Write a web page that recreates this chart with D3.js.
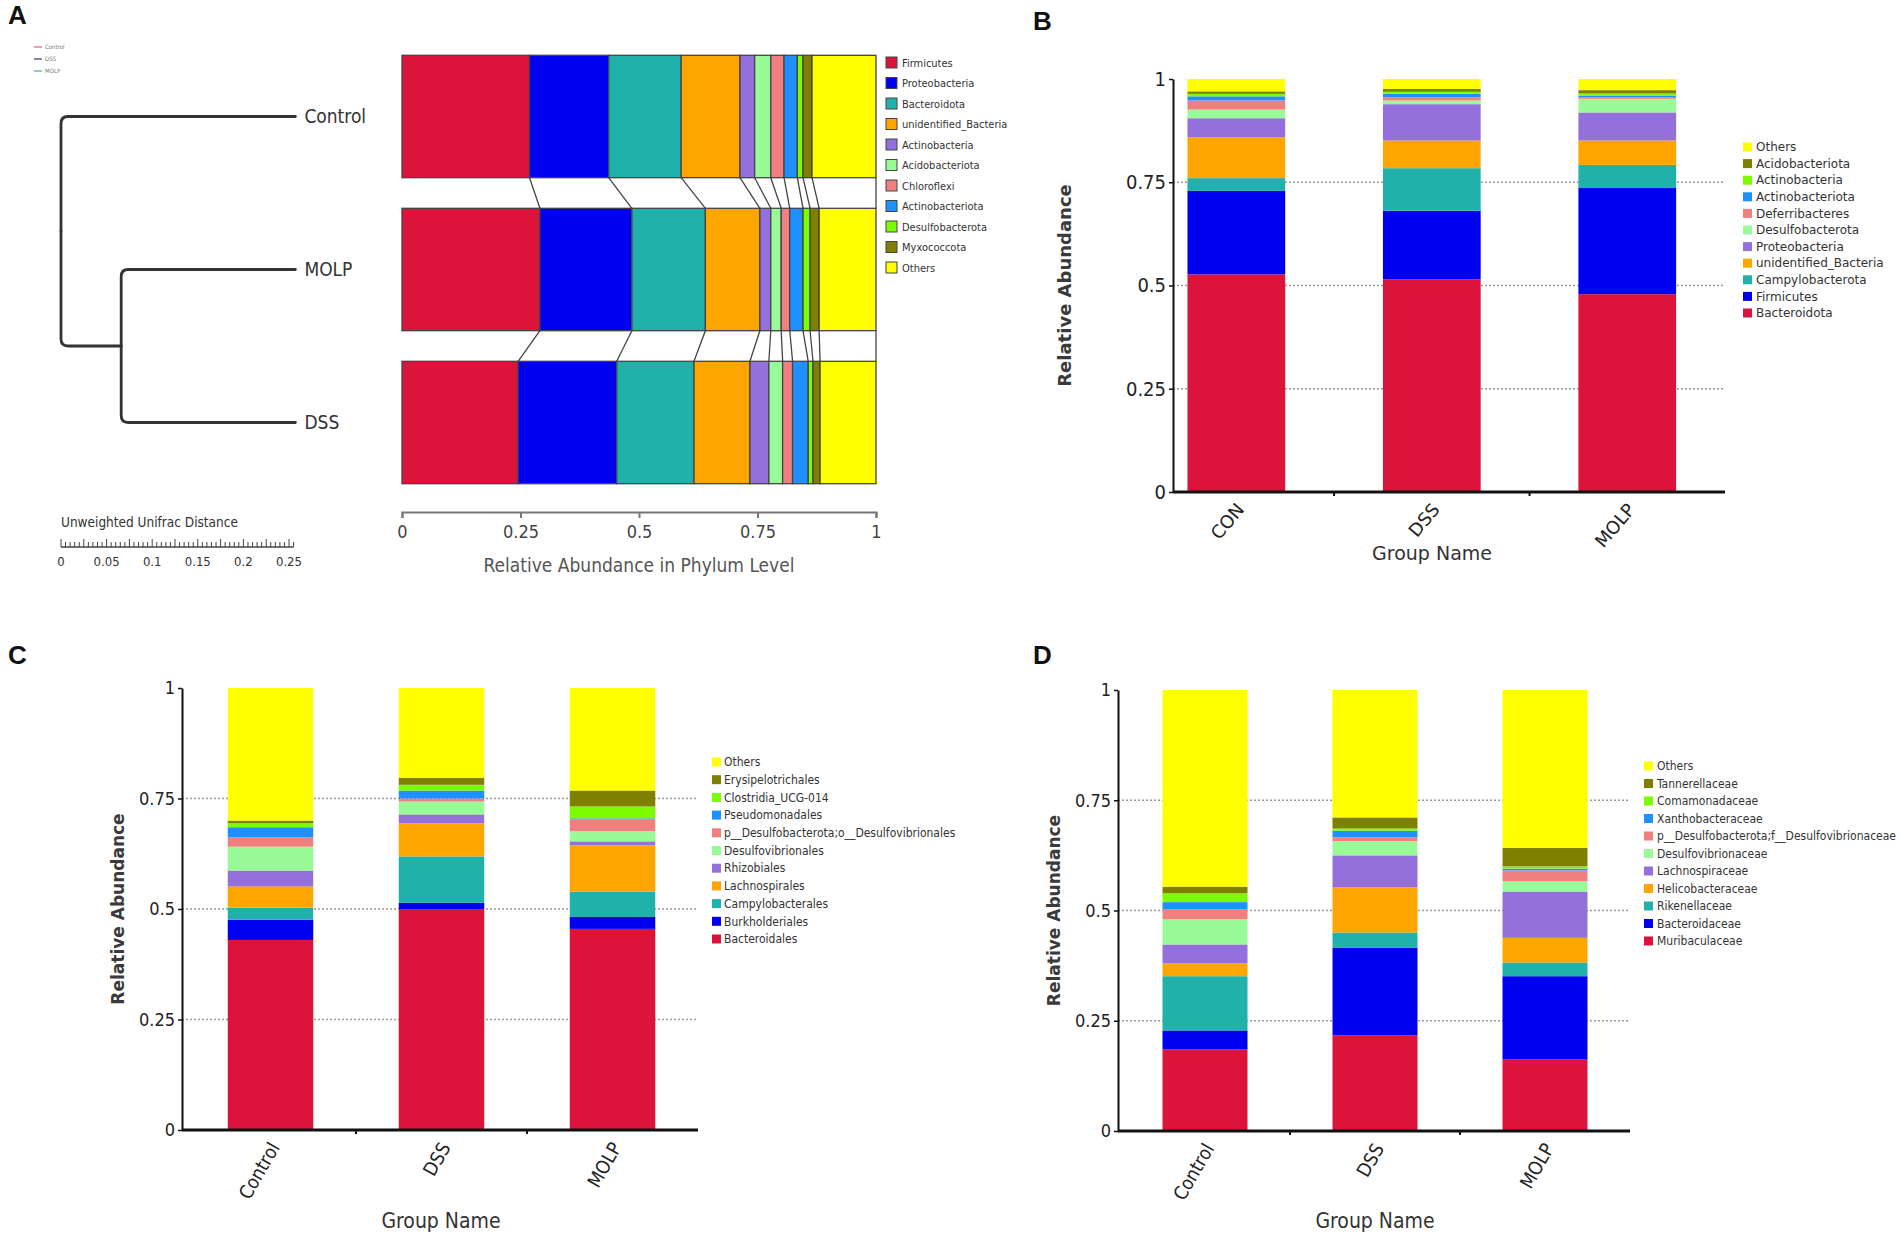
<!DOCTYPE html>
<html>
<head>
<meta charset="utf-8">
<script src="https://cdn.jsdelivr.net/npm/d3@7"></script>
<style>
  body { margin: 0; background: #fff; }
  svg { display: block; }
</style>
</head>
<body>
<svg id="fig" width="1902" height="1244"></svg>
<script>
// shared palette, same order for every panel (bottom of stack first)
const palette = ["#DC143C", "#0000F0", "#20B2AA", "#FFA500", "#9370DB", "#98FB98",
                 "#F08080", "#1E90FF", "#7CFC00", "#808000", "#FFFF00"];
const yTicks = [0, 0.25, 0.5, 0.75, 1];

// panel A: phylum level, horizontal bars
const phylaA = ["Firmicutes", "Proteobacteria", "Bacteroidota", "unidentified_Bacteria", "Actinobacteria",
                "Acidobacteriota", "Chloroflexi", "Actinobacteriota", "Desulfobacterota", "Myxococcota", "Others"];
const groupsA = ["Control", "MOLP", "DSS"];
const controlA = [0.269, 0.167, 0.153, 0.124, 0.031, 0.034, 0.028, 0.028, 0.012, 0.019, 0.135];
const molpA = [0.291, 0.194, 0.155, 0.115, 0.023, 0.022, 0.018, 0.028, 0.015, 0.019, 0.120];
const dssA = [0.245, 0.208, 0.163, 0.118, 0.040, 0.029, 0.021, 0.033, 0.010, 0.015, 0.118];
const ticksA = [0, 0.25, 0.5, 0.75, 1];

// dendrogram (unweighted unifrac)
const innerDist = 0.066;   // distance from root to MOLP/DSS node
const leafDist = 0.257;    // distance from root to leaves
const distTicks = [0, 0.05, 0.1, 0.15, 0.2, 0.25];
const treeLegend = ["Control", "DSS", "MOLP"];
const treeLegendColors = ["#d9607a", "#2b3a67", "#4aa59a"];

// panel B: phylum level
const taxaB = ["Bacteroidota", "Firmicutes", "Campylobacterota", "unidentified_Bacteria", "Proteobacteria",
               "Desulfobacterota", "Deferribacteres", "Actinobacteriota", "Actinobacteria", "Acidobacteriota", "Others"];
const groupsB = ["CON", "DSS", "MOLP"];
const conB = [0.527, 0.202, 0.031, 0.099, 0.046, 0.021, 0.022, 0.010, 0.006, 0.006, 0.030];
const dssB = [0.515, 0.166, 0.103, 0.067, 0.088, 0.009, 0.008, 0.008, 0.005, 0.007, 0.024];
const molpB = [0.479, 0.257, 0.056, 0.059, 0.068, 0.033, 0.004, 0.004, 0.005, 0.008, 0.027];

// panel C: order level
const taxaC = ["Bacteroidales", "Burkholderiales", "Campylobacterales", "Lachnospirales", "Rhizobiales",
               "Desulfovibrionales", "p__Desulfobacterota;o__Desulfovibrionales", "Pseudomonadales",
               "Clostridia_UCG-014", "Erysipelotrichales", "Others"];
const groupsC = ["Control", "DSS", "MOLP"];
const controlC = [0.430, 0.046, 0.027, 0.048, 0.036, 0.054, 0.021, 0.023, 0.009, 0.006, 0.300];
const dssC = [0.500, 0.014, 0.105, 0.075, 0.020, 0.029, 0.007, 0.018, 0.013, 0.016, 0.203];
const molpC = [0.455, 0.027, 0.057, 0.105, 0.009, 0.023, 0.027, 0.002, 0.027, 0.036, 0.232];

// panel D: family level
const taxaD = ["Muribaculaceae", "Bacteroidaceae", "Rikenellaceae", "Helicobacteraceae", "Lachnospiraceae",
               "Desulfovibrionaceae", "p__Desulfobacterota;f__Desulfovibrionaceae", "Xanthobacteraceae",
               "Comamonadaceae", "Tannerellaceae", "Others"];
const groupsD = ["Control", "DSS", "MOLP"];
const controlD = [0.185, 0.043, 0.123, 0.029, 0.043, 0.057, 0.023, 0.016, 0.020, 0.015, 0.446];
const dssD = [0.217, 0.199, 0.034, 0.103, 0.072, 0.032, 0.009, 0.015, 0.005, 0.025, 0.289];
const molpD = [0.162, 0.189, 0.031, 0.056, 0.105, 0.023, 0.025, 0.004, 0.005, 0.042, 0.358];

const NARROW = "'Liberation Sans Narrow', 'Arial Narrow', 'DejaVu Sans Condensed', sans-serif";
const SANS = "'DejaVu Sans', Verdana, sans-serif";

const svg = d3.select("#fig");
svg.append("rect").attr("width", 1902).attr("height", 1244).attr("fill", "#fff");

function toTable(groups, keys, rows) {
  return groups.map((g, i) => {
    const o = { group: g };
    keys.forEach((k, j) => o[k] = rows[i][j]);
    return o;
  });
}

// panel letters
[["A", 8, 24], ["B", 1033, 30], ["C", 8, 664], ["D", 1033, 664]].forEach(([t, x, y]) => {
  svg.append("text").attr("x", x).attr("y", y)
    .attr("font-family", "'Liberation Sans', Arial, sans-serif").attr("font-weight", "bold")
    .attr("font-size", 26).attr("fill", "#111").text(t);
});

// ---------- panel A ----------
(function panelA() {
  const g = svg.append("g");
  const x = d3.scaleLinear().domain([0, 1]).range([402, 876]);
  const y = d3.scaleBand().domain(groupsA).range([40, 499]).paddingInner(0.2).paddingOuter(0.1);
  const series = d3.stack().keys(phylaA)(toTable(groupsA, phylaA, [controlA, molpA, dssA]));

  // connectors between neighbouring bars
  const links = [];
  series.forEach(s => {
    for (let i = 0; i < groupsA.length - 1; i++) {
      links.push({ x1: x(s[i][1]), y1: y(groupsA[i]) + y.bandwidth(), x2: x(s[i + 1][1]), y2: y(groupsA[i + 1]) });
    }
  });
  g.selectAll("line.link").data(links).join("line")
    .attr("x1", d => d.x1).attr("y1", d => d.y1).attr("x2", d => d.x2).attr("y2", d => d.y2)
    .attr("stroke", "#444").attr("stroke-width", 1.3);

  g.selectAll("g.layer").data(series).join("g")
    .attr("fill", (d, i) => palette[i])
    .selectAll("rect").data(d => d).join("rect")
      .attr("x", d => x(d[0]))
      .attr("width", d => x(d[1]) - x(d[0]))
      .attr("y", d => y(d.data.group))
      .attr("height", y.bandwidth())
      .attr("stroke", "#444").attr("stroke-width", 1.3);

  // axis
  const ax = g.append("g").attr("transform", "translate(0,512)")
    .call(d3.axisBottom(x).tickValues(ticksA).tickSize(6).tickFormat(d3.format("~g")));
  ax.select(".domain").attr("stroke", "#777").attr("stroke-width", 2);
  ax.selectAll(".tick line").attr("stroke", "#777").attr("stroke-width", 2);
  ax.selectAll(".tick text").attr("font-family", NARROW).attr("font-size", 18).attr("fill", "#444").attr("dy", "0.95em");
  g.append("text").attr("x", 639).attr("y", 572).attr("text-anchor", "middle")
    .attr("font-family", NARROW).attr("font-size", 19).attr("fill", "#555")
    .text("Relative Abundance in Phylum Level");

  // legend
  const lg = g.append("g").attr("transform", "translate(886,57)");
  const li = lg.selectAll("g").data(phylaA).join("g").attr("transform", (d, i) => `translate(0,${i * 20.5})`);
  li.append("rect").attr("width", 11).attr("height", 11).attr("fill", (d, i) => palette[i])
    .attr("stroke", "#444").attr("stroke-width", 1);
  li.append("text").attr("x", 16).attr("y", 9.5).attr("font-family", NARROW).attr("font-size", 11)
    .attr("fill", "#333").text(d => d);

  // dendrogram
  const xd = d3.scaleLinear().domain([0, 0.25]).range([61, 289]);
  const root = d3.hierarchy({ name: "root", dist: 0, children: [
    { name: groupsA[0], dist: leafDist },
    { name: "", dist: innerDist, children: [{ name: groupsA[1], dist: leafDist }, { name: groupsA[2], dist: leafDist }] }
  ] });
  root.eachAfter(n => {
    n.px = xd(n.data.dist);
    n.py = n.children ? d3.mean(n.children, c => c.py) : y(n.data.name) + y.bandwidth() / 2;
  });
  const r = 7;
  const tg = g.append("g").attr("fill", "none").attr("stroke", "#333").attr("stroke-width", 2.8)
    .attr("stroke-linecap", "round");
  root.links().forEach(({ source, target }) => {
    const s = target.py > source.py ? 1 : -1;
    tg.append("path").attr("d",
      `M${target.px},${target.py} H${source.px + r} Q${source.px},${target.py} ${source.px},${target.py - s * r} V${source.py}`);
  });
  g.selectAll("text.leaf").data(root.leaves()).join("text")
    .attr("x", d => d.px + 9).attr("y", d => d.py + 6)
    .attr("font-family", NARROW).attr("font-size", 19).attr("fill", "#333").text(d => d.data.name);

  // distance scale
  g.append("text").attr("x", 61).attr("y", 527).attr("font-family", NARROW).attr("font-size", 13.5)
    .attr("fill", "#333").text("Unweighted Unifrac Distance");
  const minor = d3.range(0, 0.2551, 0.005);
  g.append("line").attr("x1", xd(0)).attr("x2", xd(0.255)).attr("y1", 547).attr("y2", 547)
    .attr("stroke", "#444").attr("stroke-width", 1.4);
  g.selectAll("line.mt").data(minor).join("line")
    .attr("x1", d => xd(d)).attr("x2", d => xd(d))
    .attr("y1", 547).attr("y2", (d, i) => i % 5 === 0 ? 539 : 542)
    .attr("stroke", "#444").attr("stroke-width", 1);
  g.selectAll("text.dt").data(distTicks).join("text")
    .attr("x", d => xd(d)).attr("y", 566).attr("text-anchor", "middle")
    .attr("font-family", NARROW).attr("font-size", 13).attr("fill", "#333").text(d3.format("~g"));

  // tiny group legend, top-left
  const tl = g.append("g").attr("transform", "translate(34,47)");
  treeLegend.forEach((t, i) => {
    tl.append("line").attr("x1", 0).attr("x2", 8).attr("y1", i * 12).attr("y2", i * 12)
      .attr("stroke", treeLegendColors[i]).attr("stroke-width", 1.2);
    tl.append("text").attr("x", 11).attr("y", i * 12 + 2).attr("font-family", NARROW).attr("font-size", 6)
      .attr("fill", "#777").text(t);
  });
})();

// ---------- vertical stacked panels B, C, D ----------
function stackPanel(o) {
  const g = svg.append("g");
  const x = d3.scaleBand().domain(o.groups).range(o.band).paddingInner(0.5).paddingOuter(0.25);
  const y = d3.scaleLinear().domain([0, 1]).range([o.y0, o.y1]);
  const right = o.band[1];

  g.selectAll("line.grid").data([0.25, 0.5, 0.75]).join("line")
    .attr("x1", o.axisX).attr("x2", right).attr("y1", d => y(d)).attr("y2", d => y(d))
    .attr("stroke", "#999").attr("stroke-width", 1.6).attr("stroke-dasharray", "2,2");

  const series = d3.stack().keys(o.taxa)(toTable(o.groups, o.taxa, o.rows));
  g.selectAll("g.layer").data(series).join("g")
    .attr("fill", (d, i) => palette[i])
    .selectAll("rect").data(d => d).join("rect")
      .attr("x", d => x(d.data.group))
      .attr("width", x.bandwidth())
      .attr("y", d => y(d[1]))
      .attr("height", d => y(d[0]) - y(d[1]));

  // y axis
  const ay = g.append("g").attr("transform", `translate(${o.axisX},0)`)
    .call(d3.axisLeft(y).tickValues(yTicks).tickSize(4).tickSizeOuter(0).tickFormat(d3.format("~g")));
  ay.select(".domain").attr("stroke", "#111").attr("stroke-width", 2);
  ay.selectAll(".tick line").attr("stroke", "#111").attr("stroke-width", 1.5);
  ay.selectAll(".tick text").attr("font-family", NARROW).attr("font-size", o.tickSize).attr("fill", "#222");

  // x axis
  g.append("line").attr("x1", o.axisX).attr("x2", right).attr("y1", o.y0).attr("y2", o.y0)
    .attr("stroke", "#111").attr("stroke-width", 3);
  g.selectAll("line.xt").data(o.groups.slice(1)).join("line")
    .attr("x1", d => x(d) - x.step() * 0.25).attr("x2", d => x(d) - x.step() * 0.25)
    .attr("y1", o.y0).attr("y2", o.y0 + 4).attr("stroke", "#111").attr("stroke-width", 2);
  g.selectAll("text.xl").data(o.groups).join("text")
    .attr("transform", d => `translate(${x(d) + x.bandwidth() / 2 + 4},${o.y0 + 14}) rotate(${o.rot})`)
    .attr("text-anchor", "end").attr("dy", "0.35em")
    .attr("font-family", o.xFont).attr("font-size", o.xSize).attr("fill", "#222").text(d => d);

  g.append("text").attr("transform", `translate(${o.yTitleX},${(o.y0 + o.y1) / 2}) rotate(-90)`)
    .attr("text-anchor", "middle").attr("font-family", SANS).attr("font-size", o.yTitleSize)
    .attr("font-weight", "bold").attr("fill", "#3a3a3a").text("Relative Abundance");
  g.append("text").attr("x", o.xTitle[0]).attr("y", o.xTitle[1]).attr("text-anchor", "middle")
    .attr("font-family", o.xTitleFont).attr("font-size", o.xTitleSize).attr("fill", "#333").text("Group Name");

  // legend, top item = last layer
  const items = o.taxa.map((t, i) => ({ t, c: palette[i] })).reverse();
  const lg = g.append("g").attr("transform", `translate(${o.legend[0]},${o.legend[1]})`);
  const li = lg.selectAll("g").data(items).join("g").attr("transform", (d, i) => `translate(0,${i * o.legend[2]})`);
  li.append("rect").attr("x", 0).attr("y", -4.5).attr("width", 9).attr("height", 9).attr("fill", d => d.c);
  li.append("text").attr("x", o.legend[3]).attr("dy", "0.35em")
    .attr("font-family", o.legendFont).attr("font-size", o.legendSize).attr("fill", "#333").text(d => d.t);
}

stackPanel({
  taxa: taxaB, groups: groupsB, rows: [conB, dssB, molpB],
  band: [1138.6, 1725], axisX: 1173, y0: 492, y1: 79,
  tickSize: 20, rot: -50, xFont: SANS, xSize: 18,
  yTitleX: 1071, yTitleSize: 18, xTitle: [1432, 560], xTitleFont: SANS, xTitleSize: 19,
  legend: [1743, 147, 16.6, 13], legendFont: SANS, legendSize: 12
});

stackPanel({
  taxa: taxaC, groups: groupsC, rows: [controlC, dssC, molpC],
  band: [185, 698], axisX: 182, y0: 1130, y1: 688,
  tickSize: 18, rot: -60, xFont: NARROW, xSize: 19,
  yTitleX: 124, yTitleSize: 17, xTitle: [441, 1228], xTitleFont: NARROW, xTitleSize: 21,
  legend: [712, 762, 17.7, 12], legendFont: NARROW, legendSize: 12
});

stackPanel({
  taxa: taxaD, groups: groupsD, rows: [controlD, dssD, molpD],
  band: [1120, 1630], axisX: 1118, y0: 1131, y1: 690,
  tickSize: 18, rot: -60, xFont: NARROW, xSize: 19,
  yTitleX: 1060, yTitleSize: 17, xTitle: [1375, 1228], xTitleFont: NARROW, xTitleSize: 21,
  legend: [1644, 766, 17.5, 13], legendFont: NARROW, legendSize: 12
});
</script>
</body>
</html>
